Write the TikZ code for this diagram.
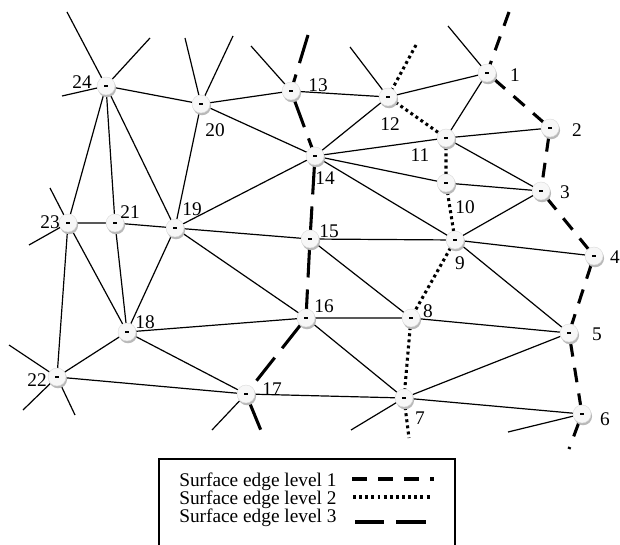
\documentclass[tikz,border=0pt]{standalone}
\usepackage{fontspec}
\setmainfont{Liberation Serif}
\usetikzlibrary{shadows}
\usetikzlibrary{backgrounds}

\begin{document}
\begin{tikzpicture}[x=0.75pt, y=-0.75pt,
    font=\fontsize{14.5pt}{17pt}\selectfont,
    vertex/.style={circle, draw=gray!30, line width=0.3pt, fill=gray!6, inner sep=0pt, minimum size=13.5pt,
      drop shadow={shadow xshift=0.8pt, shadow yshift=-1.7pt, fill=gray!55, opacity=1},
      label={[inner sep=0pt]center:\rule{2.6pt}{0.9pt}}},
    link/.style={line width=0.9pt},
    level1/.style={line width=2.3pt, dash pattern=on 11pt off 8.5pt},
    level2/.style={line width=2.3pt, dash pattern=on 2.2pt off 2.4pt},
    level3/.style={line width=2.3pt, dash pattern=on 22pt off 9pt}]
  \useasboundingbox (0,0) rectangle (620,545);

  \node[vertex, label={[shift={(28,2)}]center:1}] (1) at (487,73) {};
  \node[vertex, label={[shift={(27,2)}]center:2}] (2) at (550,128) {};
  \node[vertex, label={[shift={(24,1)}]center:3}] (3) at (541,191) {};
  \node[vertex, label={[shift={(21,1)}]center:4}] (4) at (594,256) {};
  \node[vertex, label={[shift={(28,1)}]center:5}] (5) at (569,333) {};
  \node[vertex, label={[shift={(23,5)}]center:6}] (6) at (582,414) {};
  \node[vertex, label={[shift={(16,20)}]center:7}] (7) at (404,398) {};
  \node[vertex, label={[shift={(17,-7)}]center:8}] (8) at (411,318) {};
  \node[vertex, label={[shift={(5,23)}]center:9}] (9) at (455,240) {};
  \node[vertex, label={[shift={(19,24)}]center:10}] (10) at (446,183) {};
  \node[vertex, label={[shift={(-26,17)}]center:11}] (11) at (446,138) {};
  \node[vertex, label={[shift={(2,27)}]center:12}] (12) at (388,97) {};
  \node[vertex, label={[shift={(27,-6)}]center:13}] (13) at (291,91) {};
  \node[vertex, label={[shift={(10,22)}]center:14}] (14) at (315,156) {};
  \node[vertex, label={[shift={(19,-8)}]center:15}] (15) at (310,239) {};
  \node[vertex, label={[shift={(18,-12)}]center:16}] (16) at (306,318) {};
  \node[vertex, label={[shift={(26,-5)}]center:17}] (17) at (246,394) {};
  \node[vertex, label={[shift={(18,-10)}]center:18}] (18) at (127,332) {};
  \node[vertex, label={[shift={(17,-19)}]center:19}] (19) at (175,228) {};
  \node[vertex, label={[shift={(14,26)}]center:20}] (20) at (201,104) {};
  \node[vertex, label={[shift={(15,-11)}]center:21}] (21) at (115,223) {};
  \node[vertex, label={[shift={(-20,3)}]center:22}] (22) at (57,377) {};
  \node[vertex, label={[shift={(-18,-1)}]center:23}] (23) at (68,223) {};
  \node[vertex, label={[shift={(-24,-4)}]center:24}] (24) at (106,86) {};

  % loose ends
  \coordinate (a24a) at (67,12);
  \coordinate (a24b) at (150,38);
  \coordinate (a24c) at (62,96);
  \coordinate (a20a) at (185,38);
  \coordinate (a20b) at (233,36);
  \coordinate (a13) at (251,46);
  \coordinate (a12) at (350,47);
  \coordinate (a1) at (448,26);
  \coordinate (a23a) at (50,188);
  \coordinate (a23b) at (29,245);
  \coordinate (a22a) at (9,345);
  \coordinate (a22b) at (23,410);
  \coordinate (a22c) at (75,415);
  \coordinate (a17) at (212,430);
  \coordinate (a7) at (351,430);
  \coordinate (a6) at (508,432);
  \coordinate (t1) at (509,12);
  \coordinate (t12) at (416,45);
  \coordinate (t13) at (308,35);
  \coordinate (b6) at (569,449);
  \coordinate (b7) at (409,438);
  \coordinate (b17) at (262,433);

  \begin{pgfonlayer}{background}
    \draw[link] (24) -- (20) -- (13) -- (12) -- (1);
    \draw[link] (24) -- (a24a) (24) -- (a24b) (24) -- (a24c);
    \draw[link] (20) -- (a20a) (20) -- (a20b) (13) -- (a13) (12) -- (a12) (1) -- (a1);
    \draw[link] (20) -- (14) (12) -- (14) (1) -- (11) (11) -- (2);
    \draw[link] (14) -- (11) (14) -- (10) (10) -- (3) (11) -- (3);
    \draw[link] (14) -- (9) (3) -- (9) (9) -- (4) (9) -- (5);
    \draw[link] (15) -- (9) (15) -- (8) (16) -- (8) (8) -- (5);
    \draw[link] (5) -- (7) (7) -- (6) (16) -- (7) (17) -- (7);
    \draw[link] (22) -- (17) (22) -- (18) (18) -- (17) (18) -- (16);
    \draw[link] (19) -- (16) (19) -- (15) (19) -- (14) (19) -- (18);
    \draw[link] (19) -- (21) (21) -- (23) (20) -- (19) (24) -- (19);
    \draw[link] (24) -- (21) (24) -- (23) (21) -- (18) (23) -- (18) (23) -- (22);
    \draw[link] (23) -- (a23a) (23) -- (a23b);
    \draw[link] (22) -- (a22a) (22) -- (a22b) (22) -- (a22c);
    \draw[link] (17) -- (a17) (7) -- (a7) (6) -- (a6);

    % surface edges
    \draw[level1] (t1) -- (1) -- (2) -- (3) -- (4) -- (5) -- (6) -- (b6);
    \draw[level2] (t12) -- (12) -- (11) -- (10) -- (9) -- (8) -- (7) -- (b7);
    \draw[level3] (t13) -- (13) -- (14) -- (15) -- (16) -- (17) -- (b17);
  \end{pgfonlayer}

  % key
  \draw[line width=1pt] (159,550) -- (159,459) -- (455,459) -- (455,550);
  \node[anchor=base west, inner sep=0pt] (key1) at (179,486) {Surface edge level 1};
  \node[anchor=base west, inner sep=0pt] (key2) at (179,504) {Surface edge level 2};
  \node[anchor=base west, inner sep=0pt] (key3) at (179,522) {Surface edge level 3};
  \coordinate (k1a) at (352,479);
  \coordinate (k1b) at (434,479);
  \coordinate (k2a) at (353,497);
  \coordinate (k2b) at (430,497);
  \coordinate (k3a) at (355,522);
  \coordinate (k3b) at (427,522);
  \draw[level1] (k1a) -- (k1b);
  \draw[level2] (k2a) -- (k2b);
  \draw[level3] (k3a) -- (k3b);
\end{tikzpicture}
\end{document}
